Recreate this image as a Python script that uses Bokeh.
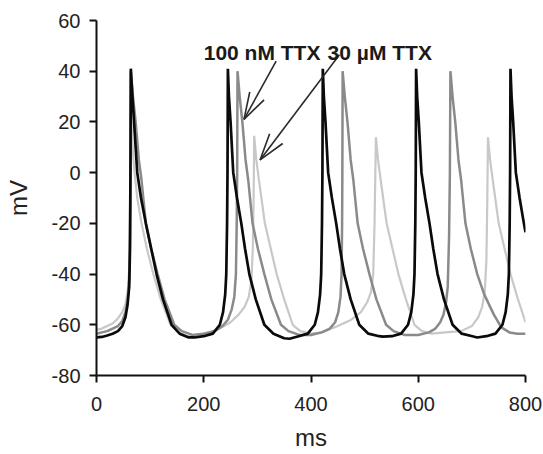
import math
from bokeh.plotting import figure
from bokeh.models import Label, FixedTicker, PrintfTickFormatter
from bokeh.embed import file_html
from bokeh.resources import INLINE

# ---------------- data ----------------
# control trace (black): (ms, mV)
control = [
    (0, -65), (10, -64.8), (20, -64.2), (30, -63.5), (40, -62.5), (48, -60.5), (54, -57), (58, -52), (61, -45),
    (62.5, -30), (63.3, 0), (64, 41),
    (67, 30), (70, 20), (76, 0), (83, -10), (92, -20), (102, -30), (112, -40), (124, -50), (140, -60), (155, -63.5),
    (172, -65), (183, -65), (200, -64.5), (217, -63.5), (230, -60), (236, -55), (240, -48), (242, -40), (243.5, -20),
    (244.3, 0), (245, 41),
    (247, 30), (250, 20), (255, 0), (262, -10), (270, -20), (277, -30), (285, -40), (297, -50), (313, -60),
    (330, -63.5), (350, -65.3), (360, -65.5), (377, -64.5), (394, -63.5), (407, -60), (413, -55), (417, -48),
    (419, -40), (420.5, -20), (421.3, 0), (422, 41),
    (424, 30), (427, 20), (432, 0), (439, -10), (447, -20), (454, -30), (462, -40), (474, -50), (490, -60),
    (507, -63.5), (527, -64.5), (534, -64.7), (551, -64.5), (568, -63.5), (581, -60), (587, -55), (591, -48),
    (593, -40), (594.5, -20), (595.3, 0), (596, 41),
    (598, 30), (601, 20), (606, 0), (613, -10), (621, -20), (628, -30), (636, -40), (648, -50), (664, -60),
    (681, -63.5), (701, -64.5), (710, -65), (727, -64.5), (744, -63.5), (757, -60), (763, -55), (767, -48),
    (769, -40), (770.5, -20), (771.3, 0), (772, 41),
    (774, 30), (777, 20), (782, 0), (789, -10), (797, -20), (800, -23.5),
]
# 100 nM TTX trace (dark grey)
ttx_100nM = [
    (0, -63.5), (10, -63), (20, -62.5), (30, -61.5), (40, -60.5), (48, -58.5), (54, -55), (58, -50), (61, -42),
    (62.5, -25), (63.3, 0), (64, 40),
    (68, 30), (73, 20), (79, 5), (84, -3), (92, -20), (102, -30), (114, -40), (127, -50), (145, -60), (159, -62.5),
    (179, -64), (200, -63.5), (220, -62.5), (235, -60.5), (245, -58), (252, -54), (257, -49), (260, -40),
    (261.5, -20), (262.3, 0), (263, 40),
    (267, 30), (272, 20), (278, 5), (283, -3), (291, -20), (301, -30), (313, -40), (326, -50), (344, -60),
    (358, -62.5), (378, -64), (400, -64), (420, -63), (435, -61.5), (445, -59), (451, -55), (455, -49), (457, -40),
    (458, -20), (458.5, 0), (459, 40),
    (463, 30), (468, 20), (474, 5), (479, -3), (487, -20), (497, -30), (509, -40), (522, -50), (540, -60),
    (554, -62.5), (574, -64), (600, -64), (620, -63), (632, -61.5), (641, -59), (647, -56), (652, -51), (655, -45),
    (657.5, -25), (659, 0), (660, 40),
    (664, 30), (669, 20), (675, 5), (680, -3), (688, -20), (698, -30), (710, -40), (723, -48), (741, -56),
    (755, -61), (770, -63), (785, -63.5), (800, -63.5),
]
# 30 uM TTX trace (light grey)
ttx_30uM = [
    (0, -62), (10, -61.5), (20, -60.5), (30, -59.5), (40, -57.5), (48, -55), (54, -52), (58, -47), (61, -38),
    (63, -15), (65, 20),
    (68, 8), (71, 0), (76, -10), (84, -20), (94, -30), (106, -40), (120, -50), (138, -60), (153, -63),
    (170, -64.5), (190, -64), (210, -63), (230, -61.5), (250, -59), (265, -56), (276, -53), (284, -49), (289, -42),
    (291.5, -30), (293, -10), (294, 14.5),
    (298, 5), (303, -3), (314, -20), (325, -30), (336, -40), (350, -50), (366, -60), (380, -62.5), (400, -63.5),
    (420, -63), (450, -60.5), (475, -58), (493, -55), (505, -51), (512, -47), (516, -40), (518.5, -20), (520, 0),
    (521, 14),
    (525, 5), (530, -3), (541, -20), (552, -30), (563, -40), (577, -50), (593, -60), (607, -62.5), (625, -63.5),
    (650, -63), (680, -62.5), (700, -60.5), (712, -57), (719, -53), (724, -47), (727, -35), (728.5, -15), (730, 14),
    (734, 5), (739, -3), (750, -20), (761, -30), (772, -40), (786, -50), (800, -59),
]
x_ticks = [0, 200, 400, 600, 800]
y_ticks = [-80, -60, -40, -20, 0, 20, 40, 60]
label_100nM = "100 nM TTX"
label_30uM = "30 \u00b5M TTX"
x_title = "ms"
y_title = "mV"

# ---------------- figure ----------------
W, H = 543, 454
BL, BR, BT, BB = 96, 18, 20, 79
FW, FH = W - BL - BR, H - BT - BB
X0, X1, Y0, Y1 = 0, 800, -80, 60
p = figure(width=W, height=H, x_range=(X0, X1), y_range=(Y0, Y1),
           output_backend="svg", toolbar_location=None,
           min_border_left=BL, min_border_top=BT, min_border_right=BR, min_border_bottom=BB)
p.outline_line_color = None
p.xgrid.visible = False
p.ygrid.visible = False
p.background_fill_color = "white"

FONT = "Liberation Sans"
for ax in (p.xaxis[0], p.yaxis[0]):
    ax.axis_line_width = 2
    ax.axis_line_color = "#111111"
    ax.major_tick_line_width = 2
    ax.major_tick_line_color = "#111111"
    ax.major_tick_out = 7
    ax.major_tick_in = 0
    ax.minor_tick_line_color = None
    ax.major_label_text_font = FONT
    ax.major_label_text_font_size = "20px"
    ax.major_label_text_color = "#222222"
    ax.axis_label_text_font = FONT
    ax.axis_label_text_font_size = "24px"
    ax.axis_label_text_font_style = "normal"
    ax.axis_label_text_color = "#222222"
    ax.formatter = PrintfTickFormatter(format="%d")

p.xaxis[0].ticker = FixedTicker(ticks=x_ticks)
p.yaxis[0].ticker = FixedTicker(ticks=y_ticks)
p.xaxis[0].axis_label = x_title
p.yaxis[0].axis_label = y_title
p.xaxis[0].major_label_standoff = 14
p.xaxis[0].axis_label_standoff = 10
p.yaxis[0].major_label_standoff = 9
p.yaxis[0].axis_label_standoff = 17

def split(tr):
    return [a for a, _ in tr], [b for _, b in tr]

for tr, col, w in ((ttx_30uM, "#c8c8c8", 2.2), (ttx_100nM, "#8a8a8a", 2.5), (control, "#0a0a0a", 2.7)):
    xs, ys = split(tr)
    p.line(xs, ys, line_color=col, line_width=w)

# ---------------- annotations ----------------
sx, sy = FW / (X1 - X0), FH / (Y1 - Y0)

def arrow(tail, tip, L=28, ang=17):
    x0s, y0s, x1s, y1s = [tail[0]], [tail[1]], [tip[0]], [tip[1]]
    dx, dy = (tail[0] - tip[0]) * sx, (tail[1] - tip[1]) * sy
    n = math.hypot(dx, dy)
    ux, uy = dx / n, dy / n
    for s in (1, -1):
        a = math.radians(s * ang)
        rx = ux * math.cos(a) - uy * math.sin(a)
        ry = ux * math.sin(a) + uy * math.cos(a)
        x0s.append(tip[0]); y0s.append(tip[1])
        x1s.append(tip[0] + L * rx / sx); y1s.append(tip[1] + L * ry / sy)
    p.segment(x0s, y0s, x1s, y1s, line_color="#2a2a2a", line_width=1.6)

arrow((335, 44), (275, 21))
arrow((453, 46.5), (305, 5))

for x, t in ((200, label_100nM), (431, label_30uM)):
    p.add_layout(Label(x=x, y=47.5, text=t, text_font=FONT, text_font_style="bold",
                       text_font_size="21px", text_color="#1a1a1a", text_baseline="alphabetic"))

open("out.html", "w").write(file_html(p, INLINE))
